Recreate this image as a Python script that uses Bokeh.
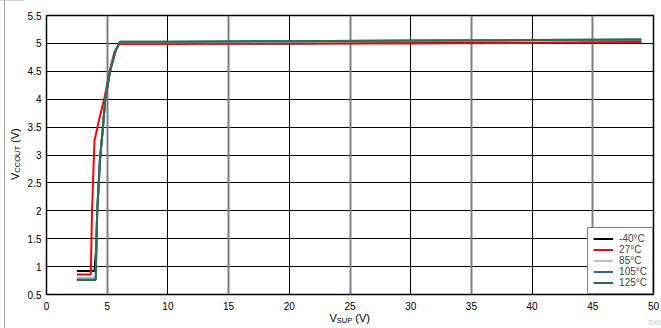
from bokeh.plotting import figure
from bokeh.models import FixedTicker, Grid, Legend, LegendItem, Div
from bokeh.layouts import row, column
from bokeh.embed import file_html
from bokeh.resources import INLINE

# ---- data ----
x_ticks = [0, 5, 10, 15, 20, 25, 30, 35, 40, 45, 50]
y_ticks = [0.5, 1, 1.5, 2, 2.5, 3, 3.5, 4, 4.5, 5, 5.5]
y_tick_labels = ["0.5", "1", "1.5", "2", "2.5", "3", "3.5", "4", "4.5", "5", "5.5"]

vsup_m40 = [2.5, 3.95, 4.08, 4.18, 4.4, 4.65, 4.84, 5.23, 5.69, 6.0, 10, 20, 30, 40, 49]
vcc_m40 = [0.92, 0.92, 1.3, 2.0, 2.9, 3.5, 4.0, 4.5, 4.87, 5.0, 5.0, 5.0, 5.01, 5.01, 5.02]

vsup_27 = [2.5, 3.65, 3.75, 3.95, 4.3, 4.8, 5.2, 5.6, 6.0, 10, 20, 30, 40, 49]
vcc_27 = [0.86, 0.86, 2.0, 3.25, 3.6, 4.05, 4.5, 4.85, 4.99, 4.99, 5.0, 5.0, 5.01, 5.02]

vsup_85 = [2.5, 4.05, 4.18, 4.4, 4.65, 4.84, 5.23, 5.69, 6.05, 10, 20, 30, 40, 49]
vcc_85 = [0.80, 0.80, 2.0, 2.9, 3.5, 4.0, 4.5, 4.87, 5.02, 5.02, 5.03, 5.04, 5.05, 5.06]

vsup_105 = [2.5, 4.05, 4.18, 4.4, 4.65, 4.84, 5.23, 5.69, 6.05, 10, 20, 30, 40, 49]
vcc_105 = [0.77, 0.77, 2.0, 2.9, 3.5, 4.0, 4.5, 4.87, 5.03, 5.03, 5.04, 5.05, 5.06, 5.07]

vsup_125 = [2.5, 4.05, 4.18, 4.4, 4.65, 4.84, 5.23, 5.69, 6.05, 10, 20, 30, 40, 49]
vcc_125 = [0.76, 0.76, 2.0, 2.9, 3.5, 4.0, 4.5, 4.87, 5.03, 5.03, 5.04, 5.05, 5.06, 5.07]

series = [
    ("-40°C", vsup_m40, vcc_m40, "#000000"),
    ("27°C", vsup_27, vcc_27, "#ff0000"),
    ("85°C", vsup_85, vcc_85, "#c0c0c0"),
    ("105°C", vsup_105, vcc_105, "#2e6b96"),
    ("125°C", vsup_125, vcc_125, "#2e6e4e"),
]

x_title = ("V", "SUP", " (V)")
y_title = ("V", "CCOUT", " (V)")
fig_id = "D001"

FONT = "Liberation Sans"

p = figure(width=637, height=312, x_range=(0, 50), y_range=(0.5, 5.5),
           output_backend="svg", toolbar_location=None,
           min_border_left=22, min_border_right=8, min_border_top=14, min_border_bottom=19)
p.background_fill_color = "white"
p.border_fill_color = "white"
p.outline_line_color = "black"
p.outline_line_width = 1.5

for ax in (p.xaxis[0], p.yaxis[0]):
    ax.axis_line_color = None
    ax.major_tick_line_color = None
    ax.minor_tick_line_color = None
    ax.major_tick_out = 0
    ax.major_tick_in = 0
    ax.minor_tick_out = 0
    ax.minor_tick_in = 0
    ax.major_label_text_font = FONT
    ax.major_label_text_font_size = "10px"
    ax.major_label_text_color = "#000000"
p.xaxis.ticker = FixedTicker(ticks=x_ticks)
p.yaxis.ticker = FixedTicker(ticks=y_ticks)
p.yaxis.major_label_overrides = {t: s for t, s in zip(y_ticks, y_tick_labels)}
p.xaxis.major_label_standoff = 7
p.yaxis.major_label_standoff = 5

p.xgrid.ticker = FixedTicker(ticks=[t for t in x_ticks if t % 10 == 0])
p.xgrid.grid_line_color = "black"
p.xgrid.grid_line_width = 1
p.ygrid.ticker = FixedTicker(ticks=y_ticks)
p.ygrid.grid_line_color = "black"
p.ygrid.grid_line_width = 1
minor_grid = Grid(dimension=0, ticker=FixedTicker(ticks=[t for t in x_ticks if t % 10 == 5]),
                  grid_line_color="#808080", grid_line_width=2)
p.add_layout(minor_grid)

items = []
for name, xs, ys, col in series:
    r = p.line(xs, ys, line_color=col, line_width=2)
    items.append(LegendItem(label=name, renderers=[r]))

legend = Legend(items=items, location="bottom_right", margin=0, padding=5,
                spacing=0, glyph_width=20, glyph_height=11, label_height=11,
                label_standoff=6, label_text_font=FONT, label_text_font_size="10px",
                border_line_color="black", border_line_width=1,
                background_fill_color="white", background_fill_alpha=1)
p.add_layout(legend)

base = "font-family:'Liberation Sans',Arial,sans-serif;color:#000;white-space:nowrap;line-height:10px;"

# left strip with rotated y title and the grey outer frame line
y_html = (
    '<div style="position:relative;width:24px;height:328px;overflow:hidden;">'
    '<div style="position:absolute;left:0;top:0;width:24px;height:1px;background:#d4d4d4;"></div>'
    '<div style="position:absolute;left:4px;top:0;width:1px;height:328px;background:#a8a8a8;"></div>'
    '<div style="position:absolute;left:9.5px;top:180px;transform:rotate(-90deg);'
    'transform-origin:0 0;font-size:11px;' + base + '">'
    + y_title[0] +
    '<span style="font-size:7.5px;position:relative;top:1px;">' + y_title[1] + '</span>'
    + y_title[2].replace(" ", "&nbsp;") + '</div></div>'
)
ydiv = Div(text=y_html, width=24, height=328, margin=(0, 0, 0, 0))

top_html = '<div style="width:637px;height:1px;background:#d4d4d4;"></div>'
topdiv = Div(text=top_html, width=637, height=1, margin=(0, 0, 0, 0))

x_html = (
    '<div style="position:relative;width:637px;height:15px;overflow:hidden;">'
    '<div style="position:absolute;left:305.5px;top:0px;font-size:11px;' + base + '">'
    + x_title[0] +
    '<span style="font-size:7.5px;position:relative;top:1px;">' + x_title[1] + '</span>'
    + x_title[2].replace(" ", "&nbsp;") + '</div>'
    '<div style="position:absolute;left:625px;top:5px;font-size:7.5px;' + base
    + 'color:#c8c8c8;">' + fig_id + '</div></div>'
)
xdiv = Div(text=x_html, width=637, height=15, margin=(0, 0, 0, 0))

layout = row(ydiv, column(topdiv, p, xdiv, spacing=0), spacing=0)

open("out.html", "w").write(file_html(layout, INLINE))
